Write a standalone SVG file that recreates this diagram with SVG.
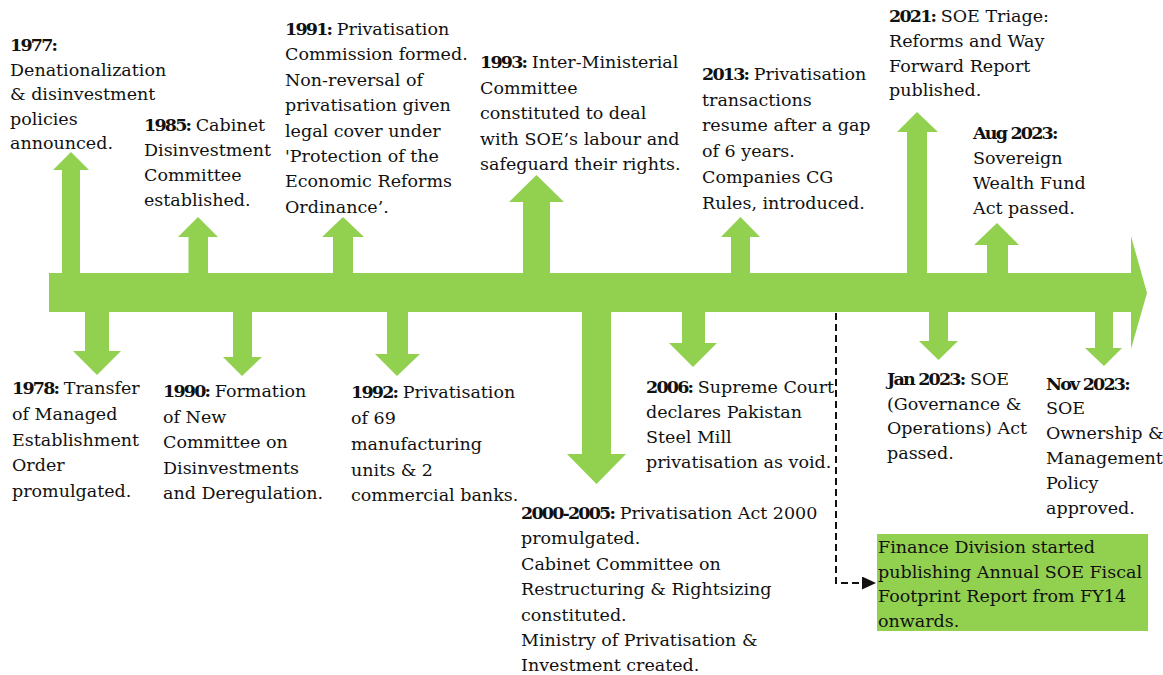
<svg xmlns="http://www.w3.org/2000/svg" width="1163" height="675" viewBox="0 0 1163 675">
<style>
.g{fill:#92D050}
.t{font-family:"DejaVu Serif","Liberation Serif",serif;font-size:17.5px;fill:#111}
.y{font-weight:bold;letter-spacing:-1.8px}
.d{fill:none;stroke:#111;stroke-width:2;stroke-dasharray:7 4}
</style>
<defs>
<marker id="ah" viewBox="0 0 14 13" refX="0" refY="6.5" markerWidth="14" markerHeight="13" markerUnits="userSpaceOnUse" orient="auto">
<path d="M0,0 L14,6.5 L0,13 z" fill="#111"/>
</marker>
</defs>
<rect width="1163" height="675" fill="#fff"/>
<g id="timeline">
<polygon class="g" points="49,273 1131,273 1131,236 1147,293 1131,349 1131,312 49,312"/>
</g>
<g id="e1977">
<polygon class="g" points="62,276 62,170 53,170 71,152 89,170 80,170 80,276"/>
<text class="t" x="10" y="51"><tspan class="y">1977:</tspan></text>
<text class="t" x="10" y="76">Denationalization</text>
<text class="t" x="10" y="100">&amp; disinvestment</text>
<text class="t" x="10" y="125">policies</text>
<text class="t" x="10" y="149">announced.</text>
</g>
<g id="e1978">
<polygon class="g" points="85,309 85,351 73,351 97,375 121,351 109,351 109,309"/>
<text class="t" x="12" y="394"><tspan class="y">1978:</tspan> Transfer</text>
<text class="t" x="12" y="420">of Managed</text>
<text class="t" x="12" y="446">Establishment</text>
<text class="t" x="12" y="471">Order</text>
<text class="t" x="12" y="497">promulgated.</text>
</g>
<g id="e1985">
<polygon class="g" points="188.5,276 188.5,237 178,237 198,217 218,237 208,237 208,276"/>
<text class="t" x="144" y="131"><tspan class="y">1985:</tspan> Cabinet</text>
<text class="t" x="144" y="156">Disinvestment</text>
<text class="t" x="144" y="181">Committee</text>
<text class="t" x="144" y="206">established.</text>
</g>
<g id="e1990">
<polygon class="g" points="233,309 233,357 223,357 242,376 262,357 252,357 252,309"/>
<text class="t" x="163" y="397"><tspan class="y">1990:</tspan> Formation</text>
<text class="t" x="163" y="422.5">of New</text>
<text class="t" x="163" y="448">Committee on</text>
<text class="t" x="163" y="473.5">Disinvestments</text>
<text class="t" x="163" y="499">and Deregulation.</text>
</g>
<g id="e1991">
<polygon class="g" points="333,276 333,237 322,237 343,217 364,237 353,237 353,276"/>
<text class="t" x="285" y="35"><tspan class="y">1991:</tspan> Privatisation</text>
<text class="t" x="285" y="60.4">Commission formed.</text>
<text class="t" x="285" y="85.8">Non-reversal of</text>
<text class="t" x="285" y="111.2">privatisation given</text>
<text class="t" x="285" y="136.6">legal cover under</text>
<text class="t" x="285" y="162">'Protection of the</text>
<text class="t" x="285" y="187.4">Economic Reforms</text>
<text class="t" x="285" y="212.8">Ordinance’.</text>
</g>
<g id="e1992">
<polygon class="g" points="387,309 387,354 375,354 397,376 420,354 408,354 408,309"/>
<text class="t" x="351" y="398"><tspan class="y">1992:</tspan> Privatisation</text>
<text class="t" x="351" y="424">of 69</text>
<text class="t" x="351" y="450">manufacturing</text>
<text class="t" x="351" y="475.5">units &amp; 2</text>
<text class="t" x="351" y="501">commercial banks.</text>
</g>
<g id="e1993">
<polygon class="g" points="523,276 523,202 509,202 536.5,175 564,202 550,202 550,276"/>
<text class="t" x="480" y="68"><tspan class="y">1993:</tspan> Inter-Ministerial</text>
<text class="t" x="480" y="93.5">Committee</text>
<text class="t" x="480" y="119">constituted to deal</text>
<text class="t" x="480" y="144.5">with SOE’s labour and</text>
<text class="t" x="480" y="170">safeguard their rights.</text>
</g>
<g id="e2000">
<polygon class="g" points="582,309 582,454 567,454 596.5,484 626,454 611,454 611,309"/>
<text class="t" x="521" y="519"><tspan class="y">2000-2005:</tspan> Privatisation Act 2000</text>
<text class="t" x="521" y="544.4">promulgated.</text>
<text class="t" x="521" y="569.8">Cabinet Committee on</text>
<text class="t" x="521" y="595.2">Restructuring &amp; Rightsizing</text>
<text class="t" x="521" y="620.6">constituted.</text>
<text class="t" x="521" y="646">Ministry of Privatisation &amp;</text>
<text class="t" x="521" y="671.4">Investment created.</text>
</g>
<g id="e2006">
<polygon class="g" points="682,309 682,343 669,343 693,367 717,343 705,343 705,309"/>
<text class="t" x="646" y="392.5"><tspan class="y">2006:</tspan> Supreme Court</text>
<text class="t" x="646" y="418">declares Pakistan</text>
<text class="t" x="646" y="443">Steel Mill</text>
<text class="t" x="646" y="468">privatisation as void.</text>
</g>
<g id="e2013">
<polygon class="g" points="731,276 731,237 721,237 740.5,217 760,237 750,237 750,276"/>
<text class="t" x="702" y="80"><tspan class="y">2013:</tspan> Privatisation</text>
<text class="t" x="702" y="105.7">transactions</text>
<text class="t" x="702" y="131.4">resume after a gap</text>
<text class="t" x="702" y="157.1">of 6 years.</text>
<text class="t" x="702" y="182.8">Companies CG</text>
<text class="t" x="702" y="208.5">Rules, introduced.</text>
</g>
<g id="e2021">
<polygon class="g" points="907,276 907,132 897,132 917,112 938,132 927,132 927,276"/>
<text class="t" x="889" y="22"><tspan class="y">2021:</tspan> SOE Triage:</text>
<text class="t" x="889" y="47">Reforms and Way</text>
<text class="t" x="889" y="71.5">Forward Report</text>
<text class="t" x="889" y="96">published.</text>
</g>
<g id="ejan2023">
<polygon class="g" points="929,309 929,341 919,341 938.5,360 958,341 948,341 948,309"/>
<text class="t" x="887" y="384.5"><tspan class="y">Jan 2023:</tspan> SOE</text>
<text class="t" x="887" y="409.5">(Governance &amp;</text>
<text class="t" x="887" y="434">Operations) Act</text>
<text class="t" x="887" y="458.5">passed.</text>
</g>
<g id="eaug2023">
<polygon class="g" points="987,276 987,245 974,245 997,223 1019,245 1008,245 1008,276"/>
<text class="t" x="973" y="139"><tspan class="y">Aug 2023:</tspan></text>
<text class="t" x="973" y="164">Sovereign</text>
<text class="t" x="973" y="189">Wealth Fund</text>
<text class="t" x="973" y="213.5">Act passed.</text>
</g>
<g id="enov2023">
<polygon class="g" points="1095,309 1095,348 1085,348 1104,366 1122,348 1113,348 1113,309"/>
<text class="t" x="1046" y="389.5"><tspan class="y">Nov 2023:</tspan></text>
<text class="t" x="1046" y="414">SOE</text>
<text class="t" x="1046" y="439">Ownership &amp;</text>
<text class="t" x="1046" y="464">Management</text>
<text class="t" x="1046" y="489">Policy</text>
<text class="t" x="1046" y="513.5">approved.</text>
</g>
<g id="financeDivision">
<rect class="g" x="877" y="534" width="271" height="97"/>
<text class="t" x="878" y="553">Finance Division started</text>
<text class="t" x="878" y="577.5">publishing Annual SOE Fiscal</text>
<text class="t" x="878" y="602">Footprint Report from FY14</text>
<text class="t" x="878" y="626.5">onwards.</text>
</g>
<g id="connectors">
<path class="d" d="M836,313 V583 H862" marker-end="url(#ah)"/>
</g>
</svg>
